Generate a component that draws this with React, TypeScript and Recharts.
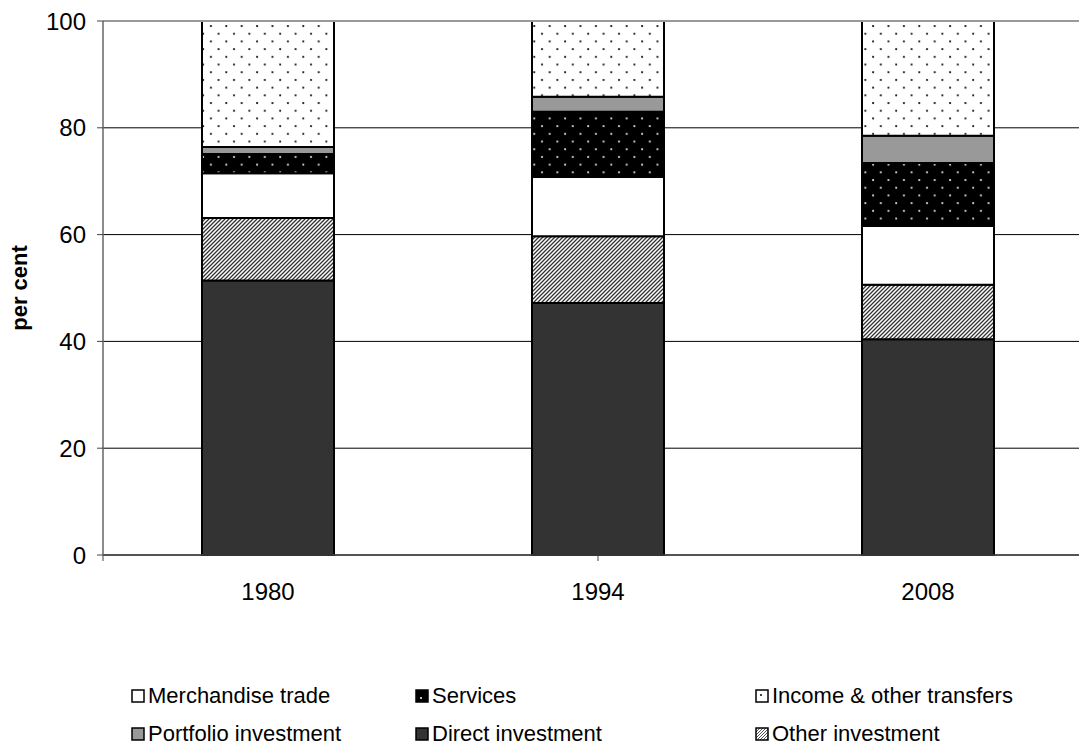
import React from 'react';
import { BarChart, Bar, XAxis, YAxis, CartesianGrid, ReferenceLine, Legend } from 'recharts';

const categories = ['1980', '1994', '2008'];
const directInvestment = [51.4, 47.2, 40.4];
const otherInvestment = [11.7, 12.5, 10.2];
const merchandiseTrade = [8.4, 11.1, 11.0];
const services = [3.6, 12.2, 11.8];
const portfolioInvestment = [1.3, 2.8, 5.1];
const incomeTransfers = [23.6, 14.2, 21.5];
const yTicks = [0, 20, 40, 60, 80, 100];
const edgeTicks = [0, 1, 2, 3];

const data = categories.map((year, i) => ({
  year,
  direct: directInvestment[i],
  other: otherInvestment[i],
  merch: merchandiseTrade[i],
  services: services[i],
  portfolio: portfolioInvestment[i],
  income: incomeTransfers[i],
}));

const series = [
  { key: 'direct', name: 'Direct investment', fill: '#333333' },
  { key: 'other', name: 'Other investment', fill: 'url(#hatch)' },
  { key: 'merch', name: 'Merchandise trade', fill: '#ffffff' },
  { key: 'services', name: 'Services', fill: 'url(#dotsBlack)' },
  { key: 'portfolio', name: 'Portfolio investment', fill: '#999999' },
  { key: 'income', name: 'Income & other transfers', fill: 'url(#dotsWhite)' },
];

const legendOrder = ['merch', 'services', 'income', 'portfolio', 'direct', 'other'];

const FONT = '"Liberation Sans", Arial, sans-serif';

const LegendIcon = ({ k }: { k: string }) => {
  const s = series.find((x) => x.key === k)!;
  let inner: React.ReactNode = null;
  let bg = s.fill;
  if (k === 'services') {
    bg = '#000';
    inner = <circle cx={6} cy={9} r={1} fill="#fff" />;
  } else if (k === 'income') {
    bg = '#fff';
    inner = <circle cx={6} cy={6} r={1} fill="#000" />;
  } else if (k === 'other') {
    bg = 'url(#hatchSmall)';
  }
  return (
    <svg width={14} height={14} style={{ display: 'block', marginRight: 3 }}>
      <rect x={1} y={1} width={12} height={12} fill={bg} stroke="#000" strokeWidth={1.5} />
      {inner}
    </svg>
  );
};

const colLeft = [131, 415, 755];
const rowTop = [8, 46];

const renderLegend = () => (
  <div style={{ position: 'relative', width: 1079, height: 70, fontFamily: FONT, fontSize: 22, color: '#000' }}>
    {legendOrder.map((k, i) => {
      const s = series.find((x) => x.key === k)!;
      return (
        <div
          key={k}
          style={{
            position: 'absolute',
            left: colLeft[i % 3],
            top: rowTop[Math.floor(i / 3)],
            display: 'flex',
            alignItems: 'center',
            height: 24,
            whiteSpace: 'nowrap',
          }}
        >
          <LegendIcon k={k} />
          <span>{s.name}</span>
        </div>
      );
    })}
  </div>
);

const YLabel = (props: any) => {
  const vb = props.viewBox || { x: 0, y: 21, width: 103, height: 534 };
  const cx = vb.x + 19;
  const cy = vb.y + vb.height / 2;
  return (
    <text
      x={cx}
      y={cy}
      transform={`rotate(-90 ${cx} ${cy})`}
      textAnchor="middle"
      dominantBaseline="central"
      fontFamily={FONT}
      fontWeight="bold"
      fontSize={22}
      fill="#000"
    >
      per cent
    </text>
  );
};

const NoTick = () => <g />;

export default function App() {
  return (
    <div style={{ position: 'absolute', left: 0, top: 0, width: 1079, height: 747, overflow: 'hidden', background: '#fff' }}>
      <svg width={0} height={0} style={{ position: 'absolute' }}>
        <defs>
          <pattern id="dotsWhite" patternUnits="userSpaceOnUse" width={15.4} height={15.4}>
            <rect width={15.4} height={15.4} fill="#fff" />
            <circle cx={3} cy={3} r={1.1} fill="#111" />
            <circle cx={10.7} cy={10.7} r={1.1} fill="#111" />
          </pattern>
          <pattern id="dotsBlack" patternUnits="userSpaceOnUse" width={15.4} height={15.4}>
            <rect width={15.4} height={15.4} fill="#000" />
            <circle cx={3} cy={3} r={1.1} fill="#ddd" />
            <circle cx={10.7} cy={10.7} r={1.1} fill="#ddd" />
          </pattern>
          <pattern id="hatch" patternUnits="userSpaceOnUse" width={4} height={4}>
            <rect width={4} height={4} fill="#fff" />
            <path d="M-1,1 l2,-2 M0,4 l4,-4 M3,5 l2,-2" stroke="#333" strokeWidth={1.3} />
          </pattern>
          <pattern id="hatchSmall" patternUnits="userSpaceOnUse" width={3} height={3}>
            <rect width={3} height={3} fill="#fff" />
            <path d="M-1,1 l2,-2 M0,3 l3,-3 M2,4 l2,-2" stroke="#555" strokeWidth={1} />
          </pattern>
        </defs>
      </svg>
      <BarChart
        width={1110}
        height={747}
        data={data}
        margin={{ top: 21, right: 17, bottom: 126, left: 0 }}
        barSize={132}
        style={{ fontFamily: FONT }}
      >
        <CartesianGrid xAxisId="b" vertical={false} stroke="#000" strokeWidth={1} />
        <XAxis
          xAxisId="b"
          dataKey="year"
          height={60}
          axisLine={false}
          tickLine={false}
          tickSize={0}
          tickMargin={22}
          tick={{ fill: '#000', fontSize: 24, fontFamily: FONT }}
        />
        <XAxis
          xAxisId="a"
          type="number"
          domain={[0, 3]}
          ticks={edgeTicks}
          height={6}
          tickSize={6}
          tick={NoTick}
          axisLine={{ stroke: '#444', strokeWidth: 1.5 }}
          tickLine={{ stroke: '#444', strokeWidth: 1 }}
          allowDataOverflow
        />
        <YAxis
          width={103}
          domain={[0, 100]}
          ticks={yTicks}
          tickSize={6}
          tickMargin={11}
          axisLine={{ stroke: '#666', strokeWidth: 1.5 }}
          tickLine={{ stroke: '#444' }}
          tick={{ fill: '#000', fontSize: 24, fontFamily: FONT }}
          label={<YLabel />}
        />
        <ReferenceLine xAxisId="b" y={100} stroke="#999" strokeWidth={2} />
        {series.map((s) => (
          <Bar
            key={s.key}
            xAxisId="b"
            dataKey={s.key}
            name={s.name}
            stackId="a"
            fill={s.fill}
            stroke="#000"
            strokeWidth={2}
            isAnimationActive={false}
          />
        ))}
        <Legend
          layout="vertical"
          verticalAlign="middle"
          align="center"
          wrapperStyle={{ left: 0, top: 676, width: 1079, height: 70 }}
          content={renderLegend}
        />
      </BarChart>
    </div>
  );
}
